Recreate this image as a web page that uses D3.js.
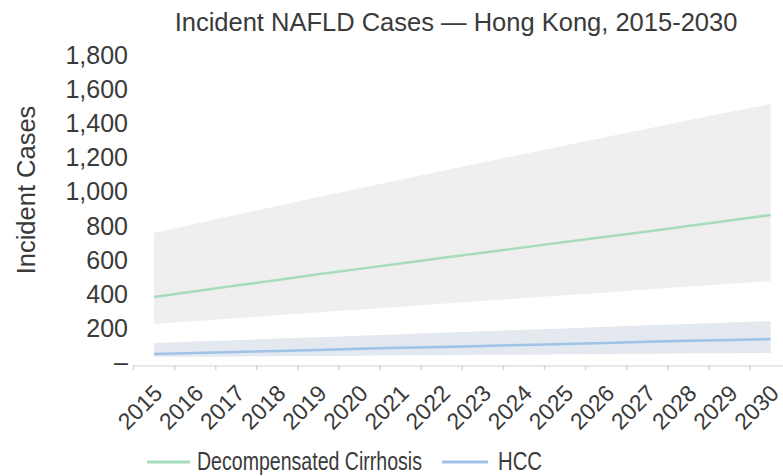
<!DOCTYPE html>
<html>
<head>
<meta charset="utf-8">
<script src="https://cdn.jsdelivr.net/npm/d3@7"></script>
<style>
  html, body { margin: 0; padding: 0; background: #ffffff; }
  svg { display: block; }
  text { font-family: "Liberation Sans", Arial, Helvetica, sans-serif; fill: #3a3a3a; }
</style>
</head>
<body>
<svg id="chart" width="783" height="476"></svg>
<script>
// ---- data ----
const years = ["2015","2016","2017","2018","2019","2020","2021","2022","2023","2024","2025","2026","2027","2028","2029","2030"];
const cirrhosis      = [384, 418, 451, 484, 517, 549, 581, 613, 644, 675, 706, 737, 768, 800, 832, 865];
const cirrhosisUpper = [760, 813, 866, 918, 970, 1021, 1072, 1123, 1173, 1223, 1273, 1322, 1371, 1420, 1468, 1516];
const cirrhosisLower = [226, 243, 260, 277, 294, 311, 327, 344, 361, 378, 395, 411, 428, 445, 461, 478];
const hcc      = [50, 56, 62, 68, 74, 80, 86, 91, 97, 103, 109, 115, 121, 127, 132, 138];
const hccUpper = [114, 123, 131, 140, 148, 157, 166, 174, 183, 192, 200, 209, 218, 226, 235, 243];
const hccLower = [32, 34, 35, 37, 38, 40, 42, 43, 45, 46, 48, 50, 51, 53, 54, 56];
const yTicks = [0, 200, 400, 600, 800, 1000, 1200, 1400, 1600, 1800];
const seriesNames = ["Decompensated Cirrhosis", "HCC"];
const title = "Incident NAFLD Cases \u2014 Hong Kong, 2015-2030";
const yTitle = "Incident Cases";

// ---- layout ----
const svg = d3.select("#chart");
const W = 783, H = 476;
const step = 41.1;
const x = d3.scaleBand().domain(years).range([133.5, 133.5 + step * years.length]).padding(0);
const y = d3.scaleLinear().domain([0, 1800]).range([362.5, 55.5]);
const cx = d => x(d) + x.bandwidth() / 2;

const colGreen = "#a6dcb9";
const colBlue = "#9fc3e6";

const idx = d3.range(years.length);
const area = (lo, hi) => d3.area()
  .x(i => cx(years[i]))
  .y0(i => y(lo[i]))
  .y1(i => y(hi[i]));
const line = (v) => d3.line().x(i => cx(years[i])).y(i => y(v[i]));

svg.append("path").datum(idx).attr("d", area(cirrhosisLower, cirrhosisUpper))
  .attr("fill", "#efefef");
svg.append("path").datum(idx).attr("d", area(hccLower, hccUpper))
  .attr("fill", "#e4e9ef");

// x axis line and ticks at band edges
const axisY = 366;
svg.append("line").attr("x1", x.range()[0]).attr("x2", W).attr("y1", axisY).attr("y2", axisY)
  .attr("stroke", "#e0e0e0").attr("stroke-width", 1.5);
svg.selectAll(".xtick").data(years).enter().append("line")
  .attr("x1", d => x(d)).attr("x2", d => x(d))
  .attr("y1", axisY - 1).attr("y2", axisY + 4)
  .attr("stroke", "#d6d6d6").attr("stroke-width", 1.5);

// series lines
svg.append("path").datum(idx).attr("d", line(cirrhosis))
  .attr("fill", "none").attr("stroke", colGreen).attr("stroke-width", 2.5);
svg.append("path").datum(idx).attr("d", line(hcc))
  .attr("fill", "none").attr("stroke", colBlue).attr("stroke-width", 2.5);

// y axis
const yAxis = d3.axisLeft(y).tickValues(yTicks).tickSize(0).tickPadding(5)
  .tickFormat(v => v === 0 ? "\u2013" : d3.format(",")(v));
const gy = svg.append("g").attr("transform", "translate(133,0)").call(yAxis);
gy.select(".domain").remove();
gy.selectAll("text").attr("font-size", 25).attr("font-family", "Liberation Sans, Arial, sans-serif")
  .attr("fill", "#3a3a3a");

// x labels
svg.selectAll(".xlab").data(years).enter().append("text")
  .attr("transform", d => `translate(${cx(d) + 4},${389}) rotate(-45)`)
  .attr("text-anchor", "end").attr("dy", "0.35em")
  .attr("font-size", 23)
  .text(d => d);

// title
svg.append("text").attr("x", 456).attr("y", 31).attr("text-anchor", "middle")
  .attr("font-size", 25.5).attr("fill", "#333").text(title);

// y title
svg.append("text").attr("transform", "translate(26,190) rotate(-90)")
  .attr("text-anchor", "middle").attr("dy", "0.35em")
  .attr("font-size", 25.5).text(yTitle);

// legend
const legend = [
  { name: seriesNames[0], color: colGreen, x1: 147, x2: 190, tx: 197, tl: 225 },
  { name: seriesNames[1], color: colBlue,  x1: 442, x2: 488, tx: 498, tl: 44 }
];
const lg = svg.append("g");
legend.forEach(l => {
  lg.append("line").attr("x1", l.x1).attr("x2", l.x2).attr("y1", 462).attr("y2", 462)
    .attr("stroke", l.color).attr("stroke-width", 3);
  lg.append("text").attr("x", l.tx).attr("y", 470)
    .attr("font-size", 25)
    .attr("textLength", l.tl).attr("lengthAdjust", "spacingAndGlyphs")
    .text(l.name);
});
</script>
</body>
</html>
